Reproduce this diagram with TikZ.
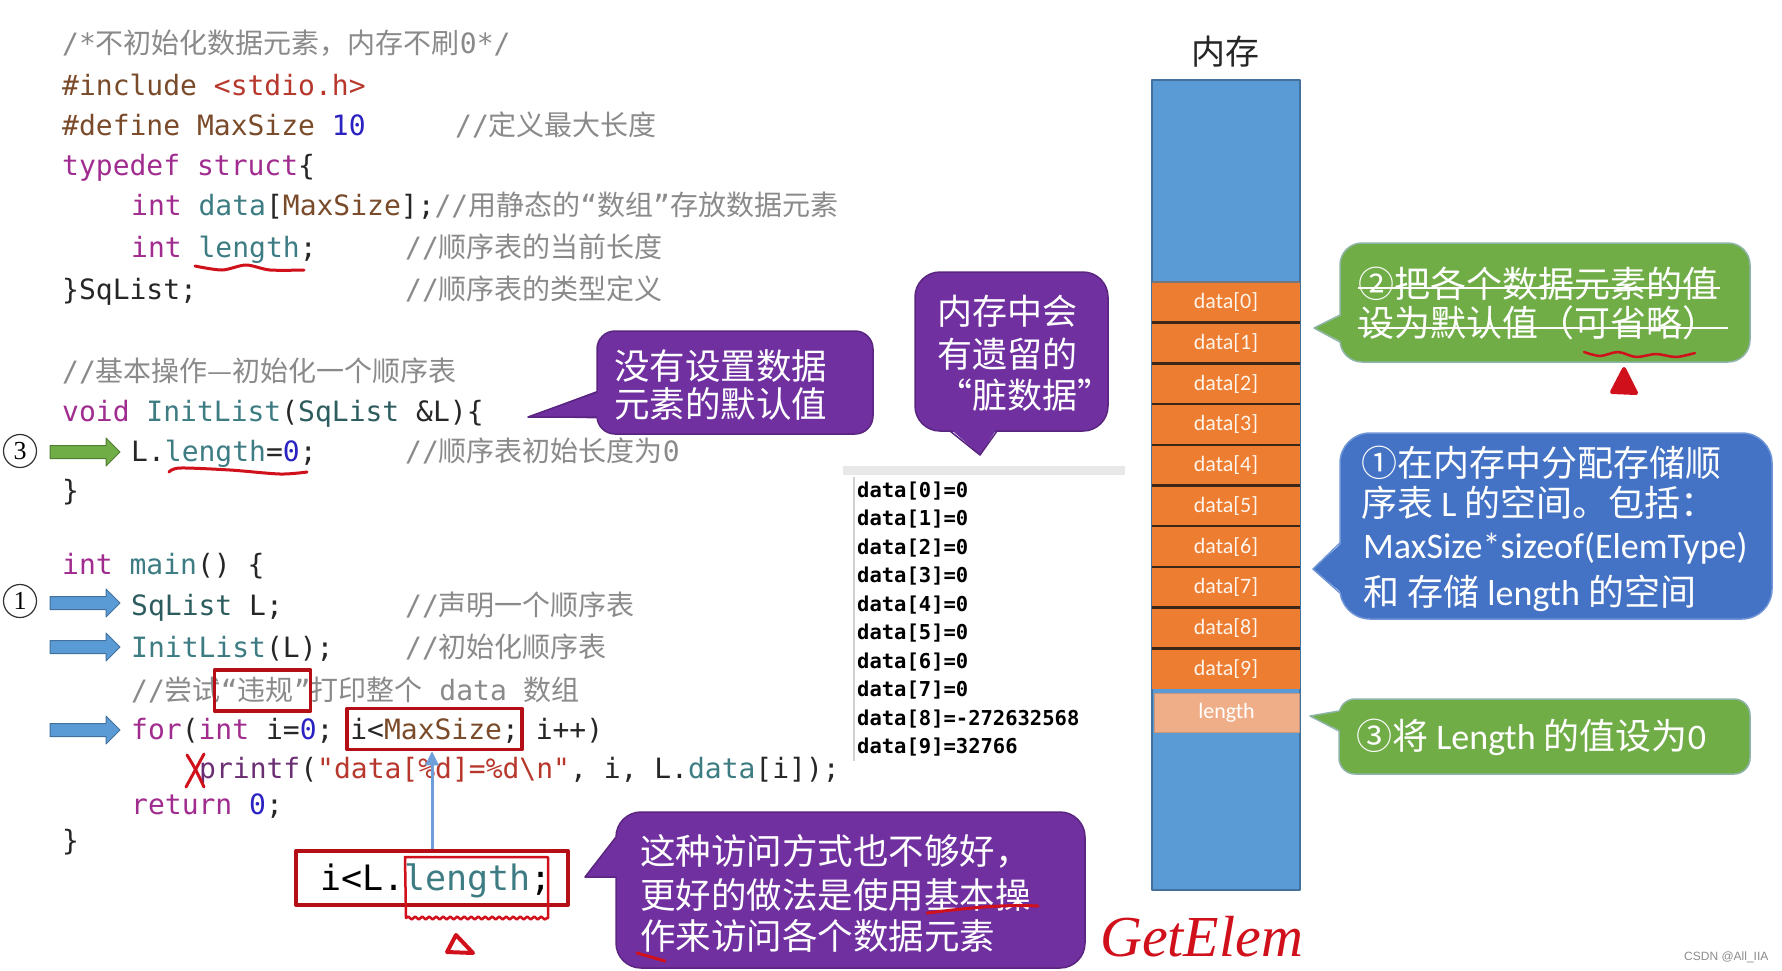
\documentclass[tikz,border=0pt]{standalone}
\usepackage{fontspec}
\setmonofont{DejaVu Sans Mono}
\newfontfamily\cjk{Noto Sans CJK SC}
\newfontfamily\calfont{Carlito}
\newfontfamily\serifit{Liberation Serif}
\newfontfamily\lsans{Liberation Sans}
\usetikzlibrary{arrows.meta,decorations.pathmorphing}
\definecolor{cpurple}{HTML}{7030A0}
\definecolor{cpurpled}{HTML}{5A2580}
\definecolor{cgreen}{HTML}{70AD47}
\definecolor{cgreend}{HTML}{8EB4A8}
\definecolor{cblue}{HTML}{4472C4}
\definecolor{cblued}{HTML}{6F95D6}
\definecolor{cmem}{HTML}{5B9BD5}
\definecolor{cmemd}{HTML}{41719C}
\definecolor{corange}{HTML}{ED7D31}
\definecolor{cseg}{HTML}{3B2618}
\definecolor{clen}{HTML}{F0AE88}
\definecolor{cellt}{HTML}{FFF4EA}
\definecolor{cred}{HTML}{B40F17}
\definecolor{cpen}{HTML}{D0101A}
\definecolor{carrow}{HTML}{6F9FD8}
\definecolor{cgarrow}{HTML}{70AD47}
\definecolor{cgarrowd}{HTML}{507E32}
\definecolor{ckw}{HTML}{A12C8F}
\definecolor{cty}{HTML}{3D7C83}
\definecolor{ctyd}{HTML}{2D5C5E}
\definecolor{cpre}{HTML}{7A4B2A}
\definecolor{cstr}{HTML}{B8372C}
\definecolor{cnum}{HTML}{2B22C2}
\definecolor{ccom}{HTML}{8A8A8A}
\definecolor{cfn}{HTML}{6B2E73}
\definecolor{cplain}{HTML}{262626}
\newcommand\Kw[1]{\textcolor{ckw}{#1}}
\newcommand\Ty[1]{\textcolor{cty}{#1}}
\newcommand\Tyd[1]{\textcolor{ctyd}{#1}}
\newcommand\Pre[1]{\textcolor{cpre}{#1}}
\newcommand\Str[1]{\textcolor{cstr}{#1}}
\newcommand\Num[1]{\textcolor{cnum}{#1}}
\newcommand\Com[1]{\textcolor{ccom}{#1}}
\newcommand\Fn[1]{\textcolor{cfn}{#1}}
\newcommand\Zh[1]{{\cjk #1}}
\newcommand\blockarrow[4]{%
  \draw[fill=#3,draw=#4,line width=1pt] (#1,#2-6.5) -- (#1+56,#2-6.5) -- (#1+56,#2-14) -- (#1+70,#2) -- (#1+56,#2+14) -- (#1+56,#2+6.5) -- (#1,#2+6.5) -- cycle;}
\begin{document}
\begin{tikzpicture}[x=1pt,y=-1pt,line join=round,
  code/.style={anchor=base west,inner sep=0pt,text=cplain,font=\ttfamily\fontsize{28}{34}\selectfont},
  con/.style={anchor=base west,inner sep=0pt,text=black,font=\ttfamily\bfseries\fontsize{20.5}{24}\selectfont},
  ctext/.style={anchor=base west,inner sep=0pt,text=white,font=\cjk\fontsize{35.5}{40}\selectfont},
  btext/.style={anchor=base west,inner sep=0pt,text=white,font=\cjk\fontsize{36}{40}\selectfont},
  redbox/.style={draw=cred,line width=3.5pt,inner sep=0pt},
  redpen/.style={draw=cpen,line width=3pt,line cap=round,line join=round},
  cellbox/.style={fill=corange,minimum width=148pt,minimum height=40.7pt,inner sep=0pt,text=cellt,font=\calfont\fontsize{22}{24}\selectfont},
  marker/.style={circle,draw=black!80,line width=1.2pt,minimum size=33pt,inner sep=0pt,font=\serifit\fontsize{26}{28}\selectfont},
]
\fill[white] (0,0) rectangle (1782,970);
\useasboundingbox (0,0) rectangle (1782,970);
\clip (0,0) rectangle (1782,970);

% ---------------- code ----------------
\node[code] (c1) at (62,53) {\Com{/*\Zh{不初始化数据元素，内存不刷}0*/}};
\node[code] (c2) at (62,95) {\Pre{\#include} \Str{<stdio.h>}};
\node[code] (c3) at (62,135) {\Pre{\#define MaxSize} \Num{10}};
\node[code] (c3c) at (455,135) {\Com{//\Zh{定义最大长度}}};
\node[code] (c4) at (62,175) {\Kw{typedef} \Kw{struct}\{};
\node[code] (c5) at (131,215) {\Kw{int} \Ty{data}[\Pre{MaxSize}];\Com{//\Zh{用静态的}“\Zh{数组}”\Zh{存放数据元素}}};
\node[code] (c6) at (131,257) {\Kw{int} \Ty{length};};
\node[code] (c6c) at (405,257) {\Com{//\Zh{顺序表的当前长度}}};
\node[code] (c7) at (62,299) {\}SqList;};
\node[code] (c7c) at (405,299) {\Com{//\Zh{顺序表的类型定义}}};
\node[code] (c8) at (62,381) {\Com{//\Zh{基本操作—初始化一个顺序表}}};
\node[code] (c9) at (62,421) {\Kw{void} \Ty{InitList}(\Tyd{SqList} \&L)\{};
\node[code] (c10) at (131,461) {L.\Ty{length}=\Num{0};};
\node[code] (c10c) at (405,461) {\Com{//\Zh{顺序表初始长度为}0}};
\node[code] (c11) at (62,500) {\}};
\node[code] (c12) at (62,574) {\Kw{int} \Ty{main}() \{};
\node[code] (c13) at (131,615) {\Tyd{SqList} L;};
\node[code] (c13c) at (405,615) {\Com{//\Zh{声明一个顺序表}}};
\node[code] (c14) at (131,657) {\Ty{InitList}(L);};
\node[code] (c14c) at (405,657) {\Com{//\Zh{初始化顺序表}}};
\node[code] (c15) at (131,700) {\Com{//\Zh{尝试}“\Zh{违规}”\Zh{打印整个} data \Zh{数组}}};
\node[code] (c16) at (131,739) {\Kw{for}(\Kw{int} i=\Num{0}; i<\Pre{MaxSize}; i++)};
\node[code] (c17) at (199,778) {\Fn{printf}(\Str{"data[\%d]=\%d\textbackslash n"}, i, L.\Ty{data}[i]);};
\node[code] (c18) at (131,814) {\Kw{return} \Num{0};};
\node[code] (c19) at (62,850) {\}};

% markers and block arrows
\node[marker] (m3) at (20,451) {3};
\node[marker] (m1) at (20,601) {1};
\blockarrow{50}{452}{cgarrow}{cgarrowd}
\blockarrow{50}{603}{cmem}{cmemd}
\blockarrow{50}{647}{cmem}{cmemd}
\blockarrow{50}{730}{cmem}{cmemd}

% red annotations in code
\draw[redpen] plot[smooth] coordinates {(195,266) (222,270) (246,265) (270,270) (304,270)};
\draw[redpen] plot[smooth] coordinates {(169,472) (180,468) (230,470) (280,474) (307,472)};
\node[redbox,minimum width=96pt,minimum height=41pt] (wg) at (262.5,690.5) {};
\node[redbox,minimum width=175pt,minimum height=41pt] (maxbox) at (434.5,729) {};
\draw[redpen] (187,755) .. controls (195,768) .. (204,787);
\draw[redpen] (204,754) .. controls (195,770) .. (186,787);
\node[redbox,line width=4pt,minimum width=272pt,minimum height=54pt] (lenbox) at (432,878) {};
\node[anchor=base west,inner sep=0pt,text=black,font=\ttfamily\fontsize{35}{40}\selectfont] (lentext) at (320,890) {i<L.\Ty{length};};
\draw[-{Triangle[width=13pt,length=14pt]},draw=carrow,fill=carrow,line width=3pt] (lenbox.north) -- (lenbox.north |- maxbox.south);
\draw[cpen,line width=2.5pt,line cap=round] (406,918) -- (405,857) -- (548,857) -- (548,918);
\draw[cpen,line width=2.5pt,decorate,decoration={snake,amplitude=1.5pt,segment length=7pt}] (406,918) -- (548,918);
\draw[redpen,line width=4pt] (456,935) -- (447,952) -- (473,953) -- cycle;

% ---------------- purple callout 1 ----------------
\draw[fill=cpurple,draw=cpurpled,line width=1.5pt,rounded corners=18pt] (597,331) rectangle (873,434);
\fill[cpurple] (599.5,390) -- (528,417) -- (599.5,418.5) -- cycle;
\draw[cpurpled,line width=1.5pt] (597,392) -- (528,417) -- (597,417);
\node[ctext] (p1a) at (614,379) {没有设置数据};
\node[ctext] (p1b) at (614,417) {元素的默认值};

% ---------------- purple callout 2 ----------------
\draw[fill=cpurple,draw=cpurpled,line width=1.5pt,rounded corners=25pt] (915,272) rectangle (1108,431);
\fill[cpurple] (950,428.5) -- (980,455) -- (997,428.5) -- cycle;
\draw[cpurpled,line width=1.5pt] (950,431) -- (980,455) -- (997,431);
\node[ctext,font=\cjk\fontsize{35}{40}\selectfont] (p2a) at (937,324) {内存中会};
\node[ctext,font=\cjk\fontsize{35}{40}\selectfont] (p2b) at (937,367) {有遗留的};
\node[ctext,font=\cjk\fontsize{35}{40}\selectfont] (p2c) at (937,408) {“脏数据”};

% ---------------- console output ----------------
\fill[black!9] (843,466) rectangle (1125,475);
\draw[black!18,line width=1.5pt] (854,477) -- (854,761);
\foreach \i/\v in {0/0,1/0,2/0,3/0,4/0,5/0,6/0,7/0,8/-272632568,9/32766}
  \node[con] (o\i) at (857,{497+28.55*\i}) {data[\i]=\v};

% ---------------- memory column ----------------
\node[anchor=base,inner sep=0pt,font=\cjk\fontsize{34}{36}\selectfont,text=black!85] (memlabel) at (1225,64) {内存};
\draw[fill=cmem,draw=cmemd,line width=1.5pt] (1152,80) rectangle (1300,890);
\foreach \i in {0,...,9}
  \node[cellbox] (d\i) at (1226,{282+40.7*\i+20.35}) {data[\i]};
\foreach \k in {1,...,9}
  \draw[cseg,line width=2.5pt] (1152,{282+40.7*\k}) -- (1300,{282+40.7*\k});
\draw[cmemd!70!corange,line width=1.2pt] (1152,282) -- (1300,282);
\node[fill=clen,draw=clen!80!black!90,line width=0.8pt,minimum width=145pt,minimum height=39pt,inner sep=0pt,text=white,font=\calfont\fontsize{22}{24}\selectfont] (lencell) at (1226.5,713) {length};

% ---------------- green callout 2 ----------------
\draw[fill=cgreen,draw=cgreend,line width=1.5pt,rounded corners=22pt] (1340,243) rectangle (1750,362);
\fill[cgreen] (1342,315) -- (1314,328) -- (1342,342) -- cycle;
\draw[cgreend,line width=1.5pt] (1340,315) -- (1314,328) -- (1340,342);
\node[btext] (g2a) at (1358,297) {②把各个数据元素的值};
\node[btext] (g2b) at (1358,336) {设为默认值（可省略）};
\draw[white,line width=2pt] (1358,288) -- (1720,288);
\draw[white,line width=2pt] (1358,328) -- (1728,328);
\draw[redpen,line width=2.5pt] plot[smooth] coordinates {(1584,352) (1600,356) (1618,352) (1636,357) (1656,354) (1676,357) (1695,353)};
\draw[redpen,line width=4pt,fill=cpen] (1624,369) -- (1612,392) -- (1636,393) -- cycle;

% ---------------- blue callout 1 ----------------
\draw[fill=cblue,draw=cblued,line width=1.5pt,rounded corners=30pt] (1340,433) rectangle (1772,619);
\fill[cblue] (1342,543) -- (1313,569) -- (1342,593) -- cycle;
\draw[cblued,line width=1.5pt] (1340,543) -- (1313,569) -- (1340,593);
\node[btext] (b1a) at (1361,476) {①在内存中分配存储顺};
\node[btext] (b1b) at (1361,516) {序表{\calfont\ L\ }的空间。包括：};
\node[btext,font=\calfont\fontsize{36}{40}\selectfont] (b1c) at (1363,558) {MaxSize*sizeof(ElemType)};
\node[btext] (b1d) at (1363,605) {和{\calfont\ }存储{\calfont\ length\ }的空间};

% ---------------- green callout 3 ----------------
\draw[fill=cgreen,draw=cgreend,line width=1.5pt,rounded corners=16pt] (1339,699) rectangle (1750,774);
\fill[cgreen] (1341,711) -- (1310,716) -- (1341,731) -- cycle;
\draw[cgreend,line width=1.5pt] (1339,711) -- (1310,716) -- (1339,731);
\node[btext] (g3) at (1356,749) {③将{\calfont\ Length\ }的值设为{\calfont 0}};

% ---------------- purple callout bottom ----------------
\draw[fill=cpurple,draw=cpurpled,line width=1.5pt,rounded corners=25pt] (616,812) rectangle (1085,968);
\fill[cpurple] (618,835) -- (585,877) -- (618,877) -- cycle;
\draw[cpurpled,line width=1.5pt] (616,837) -- (585,877) -- (616,877);
\node[ctext] (p3a) at (640,864) {这种访问方式也不够好，};
\node[ctext] (p3b) at (640,908) {更好的做法是使用基本操};
\node[ctext] (p3c) at (640,949) {作来访问各个数据元素};
\draw[redpen] (927,913) .. controls (960,909) and (1000,904) .. (1038,906);
\draw[redpen] (637,953) -- (665,961);

% ---------------- handwriting and watermark ----------------
\node[anchor=base west,inner sep=0pt,text=cpen,font=\serifit\itshape\fontsize{58}{60}\selectfont] (ge) at (1100,956) {GetElem};
\node[anchor=base west,inner sep=0pt,text=black!45,font=\lsans\fontsize{12}{14}\selectfont] (wm) at (1684,960) {CSDN @All\_IIA};
\end{tikzpicture}
\end{document}
